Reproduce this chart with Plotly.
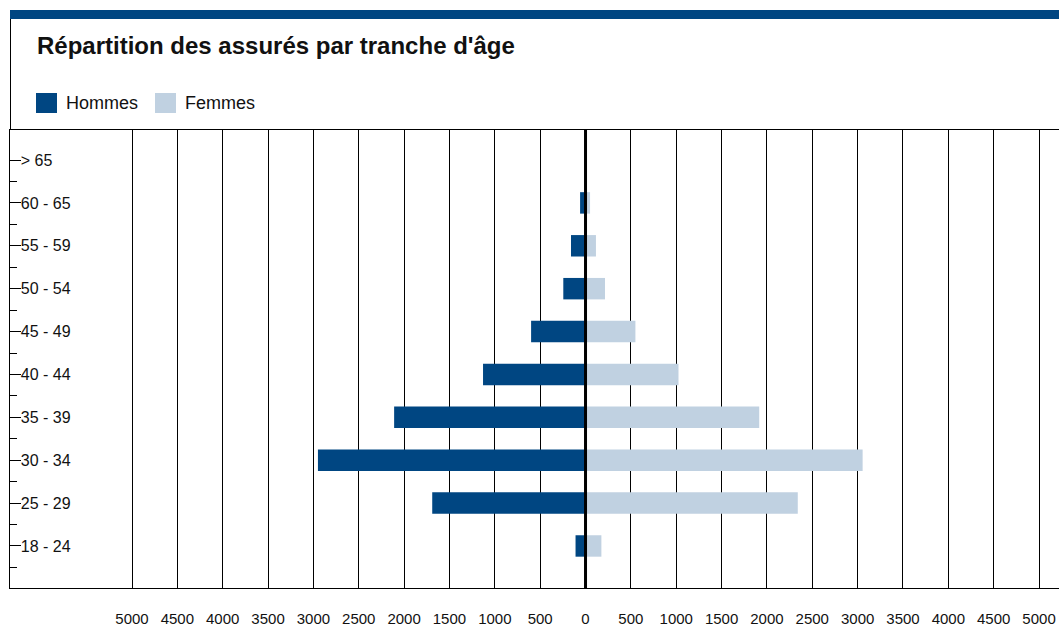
import plotly.graph_objects as go

# Data (bottom to top)
categories = ["18 - 24", "25 - 29", "30 - 34", "35 - 39", "40 - 44",
              "45 - 49", "50 - 54", "55 - 59", "60 - 65", "> 65"]
hommes = [110, 1690, 2950, 2110, 1130, 600, 245, 160, 60, 0]
femmes = [175, 2340, 3055, 1915, 1025, 550, 215, 115, 50, 0]
x_ticks = list(range(-5000, 5001, 500))
x_ticktext = [str(abs(v)) for v in x_ticks]

title = "Répartition des assurés par tranche d'âge"
DARK = "#004682"
LIGHT = "#C0D1E1"
FONT = "Arial, Liberation Sans, sans-serif"

W, H = 1059, 628
ML, MR, MT, MB = 10, 0, 130, H - 588
PW, PH = W - ML - MR, H - MT - MB

def px(x):  # page pixel -> paper
    return (x - ML) / PW

def py(y):
    return (H - MB - y) / PH

pos = list(range(len(categories)))

fig = go.Figure()
fig.add_trace(go.Bar(orientation="h", y=pos, x=[-v for v in hommes], width=0.5,
                     marker=dict(color=DARK, line=dict(width=0)), name="Hommes",
                     showlegend=False))
fig.add_trace(go.Bar(orientation="h", y=pos, x=femmes, width=0.5,
                     marker=dict(color=LIGHT, line=dict(width=0)), name="Femmes",
                     showlegend=False))

fig.update_layout(
    width=W, height=H,
    margin=dict(l=ML, r=MR, t=MT, b=MB, pad=0),
    paper_bgcolor="white", plot_bgcolor="white",
    barmode="overlay",
    font=dict(family=FONT, color="#111111"),
    title=dict(text=title, x=37 / W, xanchor="left", xref="container",
               y=1 - 46 / H, yanchor="middle", yref="container",
               font=dict(size=24, family=FONT, color="#111111", weight="bold")),
    xaxis=dict(range=[-6345, 5220], tickmode="array", tickvals=x_ticks,
               ticktext=x_ticktext, showgrid=True, gridcolor="black", gridwidth=1,
               zeroline=False, showline=True, mirror=True, linecolor="black",
               linewidth=1, ticks="", tickfont=dict(size=15, family=FONT, color="#111111"),
               ticklabelstandoff=17, fixedrange=True),
    yaxis=dict(range=[-0.98, 9.70], tickmode="array", tickvals=pos,
               ticktext=categories, showgrid=False, zeroline=False,
               showline=True, linecolor="black", linewidth=1,
               ticks="inside", ticklen=11, tickwidth=1, tickcolor="black",
               ticklabelposition="inside",
               tickfont=dict(size=16, family=FONT, color="#111111"),
               minor=dict(tickmode="array", tickvals=[p - 0.5 for p in pos],
                          ticks="inside", ticklen=7, tickwidth=1,
                          tickcolor="black", showgrid=False),
               fixedrange=True),
)

# zero line over the bars
fig.add_vline(x=0, line_width=3, line_color="black", layer="above")

# header blue band and frame
fig.add_shape(type="rect", xref="paper", yref="paper",
              x0=px(10), x1=px(1059), y0=py(19), y1=py(10),
              fillcolor=DARK, line_width=0, layer="above")
fig.add_shape(type="line", xref="paper", yref="paper",
              x0=px(10.5), x1=px(10.5), y0=py(19), y1=py(130),
              line=dict(color="black", width=1))

# legend (swatches + text)
for (x0, x1, tx, name, col) in [(36, 57, 64, "Hommes", DARK), (155, 176, 183, "Femmes", LIGHT)]:
    fig.add_shape(type="rect", xref="paper", yref="paper",
                  x0=px(x0), x1=px(x1), y0=py(113), y1=py(93),
                  fillcolor=col, line_width=0)
    fig.add_annotation(xref="paper", yref="paper", x=px(tx), y=py(103),
                       text=name, showarrow=False, xanchor="left", yanchor="middle",
                       font=dict(size=18, family=FONT, color="#111111"))

fig.write_html("out.html", config={"displayModeBar": False},
               post_script="document.body.style.margin='0';document.body.style.overflow='hidden';")
